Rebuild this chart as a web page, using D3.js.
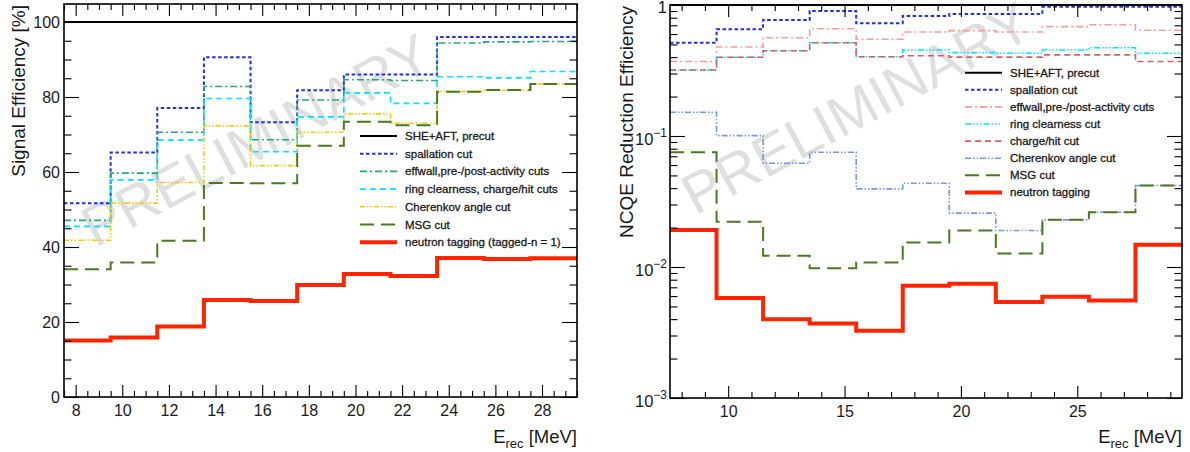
<!DOCTYPE html>
<html>
<head>
<meta charset="utf-8">
<script src="https://cdn.jsdelivr.net/npm/d3@7"></script>
<style>
body { margin: 0; background: #fff; }
text { font-family: "Liberation Sans", Arial, Helvetica, sans-serif; fill: #1a1a1a; }
</style>
</head>
<body>
<svg id="chart" width="1190" height="452"></svg>
<script>
// energy bins [MeV], shared by both panels
var binEdges = [7.5, 9.5, 11.5, 13.5, 15.5, 17.5, 19.5, 21.5, 23.5, 25.5, 27.5, 29.5]

// left panel: signal efficiency [%]
var sigNames = ["SHE+AFT, precut", "spallation cut", "effwall,pre-/post-activity cuts",
                "ring clearness, charge/hit cuts", "Cherenkov angle cut", "MSG cut",
                "neutron tagging (tagged-n = 1)"]
var sigPrecut    = [100, 100, 100, 100, 100, 100, 100, 100, 100, 100, 100]
var sigSpall     = [51.7, 65.2, 77.1, 90.6, 73.3, 81.8, 86.0, 86.0, 96.0, 96.0, 96.0]
var sigEffwall   = [47.1, 59.7, 70.6, 82.8, 68.6, 79.2, 84.6, 84.4, 94.4, 94.7, 94.8]
var sigRing      = [45.5, 57.9, 68.5, 79.6, 65.4, 74.7, 81.1, 78.3, 85.4, 85.1, 86.8]
var sigCherenkov = [41.8, 51.7, 57.2, 72.3, 61.7, 70.6, 75.5, 73.0, 81.5, 81.8, 83.5]
var sigMSG       = [34.1, 35.9, 41.7, 57.1, 57.0, 67.0, 73.4, 72.5, 81.4, 81.9, 83.5]
var sigNtag      = [15.1, 15.9, 18.8, 25.9, 25.6, 29.9, 32.8, 32.3, 37.1, 36.8, 37.0]
var sigXTicks = [8, 10, 12, 14, 16, 18, 20, 22, 24, 26, 28]
var sigYTicks = [0, 20, 40, 60, 80, 100]

// right panel: NCQE reduction efficiency
var bgNames = ["SHE+AFT, precut", "spallation cut", "effwall,pre-/post-activity cuts",
               "ring clearness cut", "charge/hit cut", "Cherenkov angle cut", "MSG cut",
               "neutron tagging"]
var bgPrecut    = [1, 1, 1, 1, 1, 1, 1, 1, 1, 1, 1]
var bgSpall     = [0.515, 0.653, 0.769, 0.90, 0.725, 0.824, 0.853, 0.853, 0.97, 0.97, 0.97]
var bgEffwall   = [0.370, 0.478, 0.563, 0.659, 0.547, 0.622, 0.637, 0.622, 0.684, 0.706, 0.641]
var bgRing      = [0.319, 0.399, 0.448, 0.515, 0.403, 0.454, 0.433, 0.428, 0.454, 0.472, 0.428]
var bgCharge    = [0.319, 0.399, 0.448, 0.515, 0.403, 0.41, 0.40, 0.40, 0.416, 0.416, 0.37]
var bgCherenkov = [0.152, 0.1007, 0.062, 0.0752, 0.0395, 0.0436, 0.0258, 0.0190, 0.0229, 0.0262, 0.0419]
var bgMSG       = [0.0752, 0.0222, 0.0122, 0.0098, 0.0108, 0.0154, 0.0190, 0.0127, 0.0229, 0.0262, 0.0419]
var bgNtag      = [0.0192, 0.0058, 0.0040, 0.00371, 0.00326, 0.0072, 0.00745, 0.0054, 0.00593, 0.00556, 0.01476]
var bgXTicks = [10, 15, 20, 25]
var bgYTicks = [0.001, 0.01, 0.1, 1]
var bgYLabels = [["10", "\u22123"], ["10", "\u22122"], ["10", "\u22121"], ["1", ""]]

var svg = d3.select("#chart")

// line styles
var stBlack  = {color: "#000000", width: 2, dash: null}
var stBlue   = {color: "#1f2ff0", width: 2, dash: "3.5,2.5"}
var stTeal   = {color: "#25a878", width: 1.6, dash: "7,3,2,3"}
var stCyan   = {color: "#00e6ff", width: 1.6, dash: "6,4"}
var stYellow = {color: "#ffc800", width: 1.6, dash: "5,2,1.5,2,1.5,2"}
var stGreen  = {color: "#4b7a1e", width: 2, dash: "14,7"}
var stRed    = {color: "#ff2400", width: 4, dash: null}
var stPink   = {color: "#ff9a9a", width: 1.6, dash: "7,3,2,3"}
var stCyan2  = {color: "#00e6ff", width: 1.6, dash: "6,2,1.5,2,1.5,2,1.5,2"}
var stBrown  = {color: "#d85f5f", width: 1.6, dash: "6,4"}
var stLBlue  = {color: "#7898dc", width: 1.6, dash: "6,2,1.5,2,1.5,2"}

function drawPanel(p) {
    var g = svg.append("g")
    var x = d3.scaleLinear().domain([7.5, 29.5]).range([p.left, p.right])
    var y = p.y

    g.append("text")
        .attr("transform", "translate(" + p.mark[0] + "," + p.mark[1] + ") rotate(-28)")
        .attr("text-anchor", "middle")
        .attr("dy", "0.35em")
        .style("font-size", "57px")
        .style("fill", "#dfdfdf")
        .text("PRELIMINARY")

    var line = d3.line().x(d => x(d[0])).y(d => y(d[1])).curve(d3.curveStepAfter)

    p.series.forEach(function(s) {
        var pts = s.values.map((v, i) => [binEdges[i], v])
        pts.push([binEdges[binEdges.length - 1], s.values[s.values.length - 1]])
        g.append("path")
            .attr("d", line(pts))
            .attr("fill", "none")
            .attr("stroke", s.style.color)
            .attr("stroke-width", s.style.width)
            .attr("stroke-dasharray", s.style.dash)
    })

    // legend
    p.series.forEach(function(s, i) {
        var ly = p.legend.y + i * p.legend.step
        g.append("line")
            .attr("x1", p.legend.x).attr("x2", p.legend.x + 37)
            .attr("y1", ly).attr("y2", ly)
            .attr("stroke", s.style.color)
            .attr("stroke-width", s.style.width)
            .attr("stroke-dasharray", s.style.dash)
        g.append("text")
            .attr("x", p.legend.x + 45).attr("y", ly + 4)
            .style("font-size", "11.5px")
            .style("stroke", "#1a1a1a").style("stroke-width", 0.3)
            .text(s.name)
    })

    // axes, ROOT style ticks on all four sides
    var minorX = p.minorX
    var bottom = p.bottom, top = p.top
    g.append("g").attr("transform", "translate(0," + bottom + ")")
        .call(d3.axisBottom(x).tickValues(p.xTicks).tickSize(-12).tickPadding(8).tickFormat(d3.format("d")))
    g.append("g").attr("transform", "translate(0," + bottom + ")")
        .call(d3.axisBottom(x).tickValues(minorX).tickSize(-6).tickFormat(""))
    g.append("g").attr("transform", "translate(0," + top + ")")
        .call(d3.axisTop(x).tickValues(p.xTicks).tickSize(-12).tickFormat(""))
    g.append("g").attr("transform", "translate(0," + top + ")")
        .call(d3.axisTop(x).tickValues(minorX).tickSize(-6).tickFormat(""))

    var leftMajor = d3.axisLeft(y).tickValues(p.yTicks).tickSize(-15).tickPadding(4)
    if (p.yLabels) leftMajor.tickFormat("")
    else leftMajor.tickFormat(d3.format("d"))
    g.append("g").attr("transform", "translate(" + p.left + ",0)").call(leftMajor)
    g.append("g").attr("transform", "translate(" + p.left + ",0)")
        .call(d3.axisLeft(y).tickValues(p.minorY).tickSize(-7.5).tickFormat(""))
    g.append("g").attr("transform", "translate(" + p.right + ",0)")
        .call(d3.axisRight(y).tickValues(p.yTicks).tickSize(-15).tickFormat(""))
    g.append("g").attr("transform", "translate(" + p.right + ",0)")
        .call(d3.axisRight(y).tickValues(p.minorY).tickSize(-7.5).tickFormat(""))

    g.selectAll(".domain").remove()
    g.selectAll(".tick line").attr("stroke", "#000").attr("stroke-width", 1.1)
    g.selectAll(".tick text").style("font-size", "16px")

    if (p.yLabels) {
        p.yTicks.forEach(function(v, i) {
            var t = g.append("text")
                .attr("x", p.left - 3)
                .attr("y", y(v) + (v === 1 ? 8 : 9))
                .attr("text-anchor", "end")
                .style("font-size", "16.5px")
            t.append("tspan").text(p.yLabels[i][0])
            if (p.yLabels[i][1]) {
                t.append("tspan").attr("dy", -8).style("font-size", "12px").text(p.yLabels[i][1])
            }
        })
    }

    g.append("rect")
        .attr("x", p.left).attr("y", top)
        .attr("width", p.right - p.left).attr("height", bottom - top)
        .attr("fill", "none").attr("stroke", "#000").attr("stroke-width", 1.6)

    // axis titles
    g.append("text")
        .attr("transform", "translate(" + p.yTitleX + "," + (top + 1) + ") rotate(-90)")
        .attr("text-anchor", "end")
        .style("font-size", "19px")
        .text(p.yTitle)

    var xt = g.append("text")
        .attr("x", p.right).attr("y", 443)
        .attr("text-anchor", "end")
        .style("font-size", "18.5px")
    xt.append("tspan").text("E")
    xt.append("tspan").attr("dy", 5).style("font-size", "13px").text("rec")
    xt.append("tspan").attr("dy", -5).text(" [MeV]")
}

var sigMinorY = d3.range(5, 105, 5).filter(v => v % 20 !== 0)
var sigMinorX = d3.range(7.5, 29.51, 0.5).filter(v => v % 2 !== 0)

drawPanel({
    left: 64, right: 577, top: 4, bottom: 397,
    y: d3.scaleLinear().domain([0, 104.8]).range([397, 4]),
    xTicks: sigXTicks, minorX: sigMinorX,
    yTicks: sigYTicks, minorY: sigMinorY,
    yTitle: "Signal Efficiency [%]", yTitleX: 25,
    mark: [256, 140],
    legend: {x: 360, y: 136, step: 17.7},
    series: [
        {name: sigNames[0], values: sigPrecut, style: stBlack},
        {name: sigNames[1], values: sigSpall, style: stBlue},
        {name: sigNames[2], values: sigEffwall, style: stTeal},
        {name: sigNames[3], values: sigRing, style: stCyan},
        {name: sigNames[4], values: sigCherenkov, style: stYellow},
        {name: sigNames[5], values: sigMSG, style: stGreen},
        {name: sigNames[6], values: sigNtag, style: stRed}
    ]
})

var bgMinorY = []
;[0.001, 0.01, 0.1].forEach(d => [2, 3, 4, 5, 6, 7, 8, 9].forEach(k => bgMinorY.push(d * k)))
var bgMinorX = d3.range(8, 30, 1).filter(v => v % 5 !== 0)

drawPanel({
    left: 670, right: 1182, top: 5, bottom: 398,
    y: d3.scaleLog().domain([0.001, 1]).range([398, 5]),
    xTicks: bgXTicks, minorX: bgMinorX,
    yTicks: bgYTicks, minorY: bgMinorY, yLabels: bgYLabels,
    yTitle: "NCQE Reduction Efficiency", yTitleX: 633,
    mark: [856, 108],
    legend: {x: 965, y: 72.7, step: 17.1},
    series: [
        {name: bgNames[0], values: bgPrecut, style: stBlack},
        {name: bgNames[1], values: bgSpall, style: stBlue},
        {name: bgNames[2], values: bgEffwall, style: stPink},
        {name: bgNames[3], values: bgRing, style: stCyan2},
        {name: bgNames[4], values: bgCharge, style: stBrown},
        {name: bgNames[5], values: bgCherenkov, style: stLBlue},
        {name: bgNames[6], values: bgMSG, style: stGreen},
        {name: bgNames[7], values: bgNtag, style: stRed}
    ]
})
</script>
</body>
</html>
